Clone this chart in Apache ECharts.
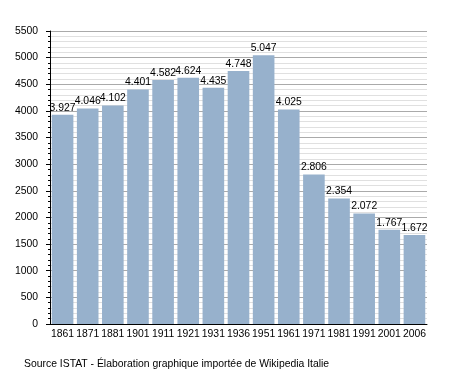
<!DOCTYPE html>
<html><head><meta charset="utf-8">
<script src="https://cdn.jsdelivr.net/npm/echarts@6/dist/echarts.min.js"></script>
<style>html,body{margin:0;padding:0;background:#fff}#c{width:455px;height:373px}</style>
</head><body><div id="c"></div>
<script>
const years = ['1861','1871','1881','1901','1911','1921','1931','1936','1951','1961','1971','1981','1991','2001','2006'];
const population = [3927,4046,4102,4401,4582,4624,4435,4748,5047,4025,2806,2354,2072,1767,1672];
const yTicks = {min:0, max:5500, interval:500};
const sourceText = 'Source ISTAT - Élaboration graphique importée de Wikipedia Italie';

const chart = echarts.init(document.getElementById('c'), null, {renderer:'canvas'});
const font = 'Liberation Sans, Arial, sans-serif';
chart.setOption({
  animation:false,
  textStyle:{fontFamily:font},
  grid:{left:50,right:28,top:31,bottom:49,containLabel:false},
  title:{text:sourceText,left:19,top:354,textStyle:{fontSize:10.4,fontWeight:'normal',color:'#000',fontFamily:font}},
  xAxis:{type:'category',data:years,
    axisLine:{lineStyle:{color:'#000',width:1}},
    axisTick:{show:false},
    axisLabel:{color:'#000',fontSize:10.4,margin:5,interval:0,fontFamily:font}},
  yAxis:{type:'value',min:yTicks.min,max:yTicks.max,interval:yTicks.interval,
    axisLine:{show:true,lineStyle:{color:'#000',width:1}},
    axisTick:{show:true,inside:false,length:4,lineStyle:{color:'#000'}},
    minorTick:{show:true,splitNumber:5,length:2,lineStyle:{color:'#000'}},
    splitLine:{show:true,lineStyle:{color:'#aaa',width:1}},
    minorSplitLine:{show:true,lineStyle:{color:'#e0e0e0',width:1}},
    axisLabel:{color:'#000',fontSize:10.4,margin:12,fontFamily:font,formatter:v=>String(v)}},
  series:[{type:'bar',data:population,barCategoryGap:'14%',
    itemStyle:{color:'#97b1cc'},
    label:{show:true,position:'top',distance:2,color:'#000',fontSize:10.4,fontFamily:font,
      formatter:p=>{const v=p.value;return Math.floor(v/1000)+'.'+String(v%1000).padStart(3,'0');}}}]
});
</script></body></html>
